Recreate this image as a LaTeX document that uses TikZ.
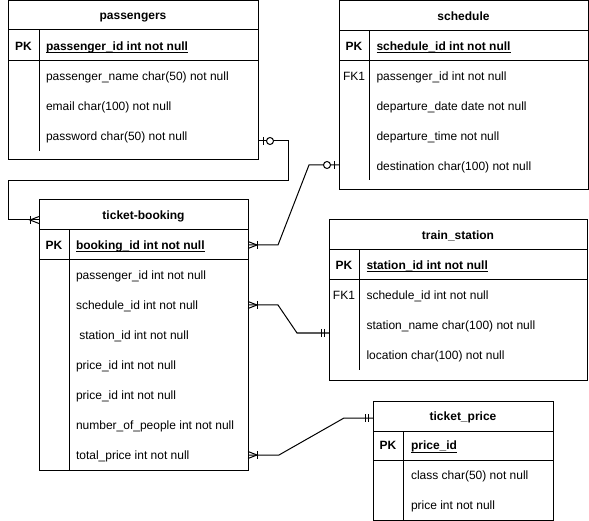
\documentclass[tikz,border=0pt]{standalone}
\usepackage{fontspec}
\setmainfont{Liberation Sans}
\begin{document}
\begin{tikzpicture}[x=1pt,y=-1pt,line width=1pt,
  every node/.style={font=\fontsize{12pt}{14pt}\selectfont, inner sep=0pt, outer sep=0pt},
  frame/.style={draw, rectangle, anchor=north west},
  fld/.style={anchor=west, text height=8.6pt, text depth=0pt},
  ttl/.style={anchor=center, text height=8.6pt, text depth=0pt, font=\fontsize{12pt}{14pt}\selectfont\bfseries},
  keyb/.style={ttl},
  keyn/.style={anchor=center, text height=8.6pt, text depth=0pt},
  pkf/.style={fld, font=\fontsize{12pt}{14pt}\selectfont\bfseries},
  uline/.style={line width=1pt},
  many/.pic={\draw (0,-3.5) -- (9,0) -- (0,3.5); \draw (9,-4) -- (9,4);},
  zeroone/.pic={\draw (5,-4) -- (5,4); \draw[fill=white] (12,0) circle[radius=3.5];},
  mandone/.pic={\draw (4.5,-4) -- (4.5,4); \draw (8,-4) -- (8,4);}
]
\useasboundingbox (0,0) rectangle (589,521);

% ---------- passengers ----------
\node[frame, minimum width=250pt, minimum height=159pt] (pas) at (8,1) {};
\draw (8,30) -- (258,30);
\draw (8,61) -- (258,61);
\draw (39,30) -- (39,151);
\node[ttl] (pas-t) at (133,15.5) {passengers};
\node[keyb] (pas-k) at (23.5,46) {PK};
\node[pkf] (pas-pk) at (46,46) {passenger\_id int not null};
\draw[uline] ([yshift=-2.2pt]pas-pk.south west) -- ([yshift=-2.2pt]pas-pk.south east);
\node[fld] (pas-r1) at (46,76) {passenger\_name char(50) not null};
\node[fld] (pas-r2) at (46,106) {email char(100) not null};
\node[fld] (pas-r3) at (46,136) {password char(50) not null};

% ---------- schedule ----------
\node[frame, minimum width=249pt, minimum height=189pt] (sch) at (339,1) {};
\draw (339,31) -- (588,31);
\draw (339,61) -- (588,61);
\draw (369,31) -- (369,180);
\node[ttl] (sch-t) at (463.5,16) {schedule};
\node[keyb] (sch-k) at (354,46) {PK};
\node[pkf] (sch-pk) at (376.5,46) {schedule\_id int not null};
\draw[uline] ([yshift=-2.2pt]sch-pk.south west) -- ([yshift=-2.2pt]sch-pk.south east);
\node[keyn] (sch-fk) at (354,76) {FK1};
\node[fld] (sch-r1) at (376.5,76) {passenger\_id int not null};
\node[fld] (sch-r2) at (376.5,106) {departure\_date date not null};
\node[fld] (sch-r3) at (376.5,136) {departure\_time not null};
\node[fld] (sch-r4) at (376.5,166) {destination char(100) not null};

% ---------- ticket-booking ----------
\node[frame, minimum width=209pt, minimum height=270pt] (tb) at (39,200) {};
\draw (39,230) -- (248,230);
\draw (39,260) -- (248,260);
\draw (69,230) -- (69,470);
\node[ttl] (tb-t) at (143.5,215) {ticket-booking};
\node[keyb] (tb-k) at (54,245) {PK};
\node[pkf] (tb-pk) at (76,245) {booking\_id int not null};
\draw[uline] ([yshift=-2.2pt]tb-pk.south west) -- ([yshift=-2.2pt]tb-pk.south east);
\node[fld] (tb-r1) at (76,275) {passenger\_id int not null};
\node[fld] (tb-r2) at (76,305) {schedule\_id int not null};
\node[fld] (tb-r3) at (76,335) {\ station\_id int not null};
\node[fld] (tb-r4) at (76,365) {price\_id int not null};
\node[fld] (tb-r5) at (76,395) {price\_id int not null};
\node[fld] (tb-r6) at (76,425) {number\_of\_people int not null};
\node[fld] (tb-r7) at (76,455) {total\_price int not null};

% ---------- train_station ----------
\node[frame, minimum width=258pt, minimum height=160pt] (ts) at (329,220) {};
\draw (329,250) -- (587,250);
\draw (329,280) -- (587,280);
\draw (359,250) -- (359,370);
\node[ttl] (ts-t) at (458,235) {train\_station};
\node[keyb] (ts-k) at (344,265) {PK};
\node[pkf] (ts-pk) at (366.5,265) {station\_id int not null};
\draw[uline] ([yshift=-2.2pt]ts-pk.south west) -- ([yshift=-2.2pt]ts-pk.south east);
\node[keyn] (ts-fk) at (344,295) {FK1};
\node[fld] (ts-r1) at (366.5,295) {schedule\_id int not null};
\node[fld] (ts-r2) at (366.5,325) {station\_name char(100) not null};
\node[fld] (ts-r3) at (366.5,355) {location char(100) not null};

% ---------- ticket_price ----------
\node[frame, minimum width=180pt, minimum height=119pt] (tp) at (373,401) {};
\draw (373,431) -- (553,431);
\draw (373,460) -- (553,460);
\draw (403,431) -- (403,520);
\node[ttl] (tp-t) at (463,416) {ticket\_price};
\node[keyb] (tp-k) at (388,445.5) {PK};
\node[pkf] (tp-pk) at (411,445.5) {price\_id};
\draw[uline] ([yshift=-2.2pt]tp-pk.south west) -- ([yshift=-2.2pt]tp-pk.south east);
\node[fld] (tp-r1) at (411,475) {class char(50) not null};
\node[fld] (tp-r2) at (411,505) {price int not null};

% ---------- connectors ----------
\coordinate (k1a) at (288,141);
\coordinate (k1b) at (288,181);
\coordinate (k1c) at (8,181);
\coordinate (k1d) at (8,220);
\draw (pas.east |- k1a) -- (k1a) -- (k1b) -- (k1c) -- (k1d) -- (tb.west |- k1d);
\pic at (pas.east |- k1a) {zeroone};
\pic[xscale=-1] at (tb.west |- k1d) {many};

\coordinate (k2a) at (278,245);
\coordinate (k2b) at (309,165);
\draw (tb.east |- k2a) -- (k2a) -- (k2b) -- (sch.west |- k2b);
\pic at (tb.east |- k2a) {many};
\pic[xscale=-1] at (sch.west |- k2b) {zeroone};

\coordinate (k3a) at (278,305);
\coordinate (k3b) at (297,333);
\draw (tb.east |- k3a) -- (k3a) -- (k3b) -- (ts.west |- k3b);
\pic at (tb.east |- k3a) {many};
\pic[xscale=-1] at (ts.west |- k3b) {mandone};

\coordinate (k4a) at (279,455);
\coordinate (k4b) at (344,418);
\draw (tb.east |- k4a) -- (k4a) -- (k4b) -- (tp.west |- k4b);
\pic at (tb.east |- k4a) {many};
\pic[xscale=-1] at (tp.west |- k4b) {mandone};
\end{tikzpicture}
\end{document}
